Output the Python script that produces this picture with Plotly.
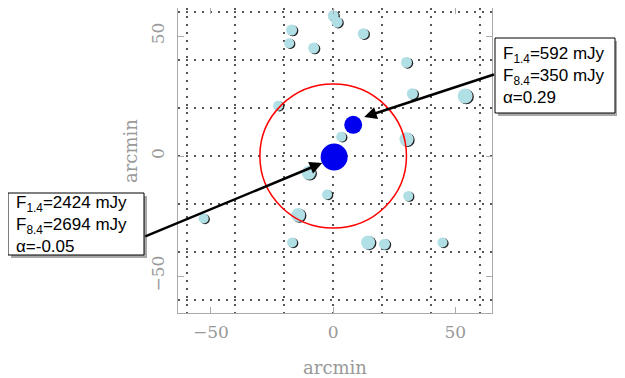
import plotly.graph_objects as go

# field sources (arcmin offsets from pointing centre)
src_x = [0, 1.6, -17, -18, -8, 12.3, 30, 32.4, 54, -22.5, 3.3, 30, -10,
         -2.5, 30.7, -53, -14.3, -16.8, 14.3, 21, 44.7]
src_y = [58.5, 55.8, 52.5, 47, 45, 51, 39, 26, 25, 21, 8, 7, -7,
         -16, -16.7, -26, -24.6, -36, -36, -36.7, -36]
src_size = [11, 11, 11, 10, 11, 11, 11, 11, 15, 10, 10, 14, 14,
            10, 10, 10, 14, 10, 14, 11, 10]

# the two bright targets
tgt_x = [8.2, 0.4]
tgt_y = [13, -0.4]
tgt_size = [18, 27]

# open green marker
ring_x = [33.6]
ring_y = [-41]

# primary beam circle
beam_cx, beam_cy, beam_r = 0, 0, 30

tick_vals = [-50, 0, 50]
grid_vals = [-60, -40, -20, 0, 20, 40, 60]

# callout boxes
box_text = ["F<sub>1.4</sub>=592 mJy<br>F<sub>8.4</sub>=350 mJy<br>α=0.29",
            "F<sub>1.4</sub>=2424 mJy<br>F<sub>8.4</sub>=2694 mJy<br>α=-0.05"]
# box corners in figure pixels: left, top, right, bottom
box_px = [(487, 30, 607, 105), (0, 185, 136, 247)]
head_x = [12.7, -4.5]
head_y = [16.25, -2.9]
tail_x = [66.4, -77.5]
tail_y = [34.2, -33.75]

W, H = 617, 370
ML, MR, MT, MB = 170, 133, 0, 65
PW, PH = W - ML - MR, H - MT - MB


def px2paper_x(p):
    return (p - ML) / PW


def px2paper_y(p):
    return (H - MB - p) / PH


fig = go.Figure()

# dark shadow under the light blue dots
fig.add_trace(go.Scatter(x=[v + 0.5 for v in src_x], y=[v - 0.3 for v in src_y],
                         mode="markers",
                         marker=dict(size=src_size, color="#222222", opacity=1, line=dict(width=0)),
                         hoverinfo="skip", showlegend=False))
fig.add_trace(go.Scatter(x=src_x, y=src_y, mode="markers",
                         marker=dict(size=src_size, color="#b0e0e6", opacity=1, line=dict(width=0)),
                         showlegend=False))
fig.add_trace(go.Scatter(x=tgt_x, y=tgt_y, mode="markers",
                         marker=dict(size=tgt_size, color="#0000ee", opacity=1, line=dict(width=0)),
                         showlegend=False))
fig.add_trace(go.Scatter(x=ring_x, y=ring_y, mode="markers",
                         marker=dict(size=16, color="rgba(0,0,0,0)", symbol="circle-open",
                                     line=dict(width=2, color="#8fe08f")),
                         showlegend=False))

fig.add_shape(type="circle", xref="x", yref="y",
              x0=beam_cx - beam_r, x1=beam_cx + beam_r,
              y0=beam_cy - beam_r, y1=beam_cy + beam_r,
              line=dict(color="red", width=1.5))

for i in range(len(box_text)):
    l, t, r, b = box_px[i]
    # arrow
    fig.add_annotation(x=head_x[i], y=head_y[i], ax=tail_x[i], ay=tail_y[i],
                       xref="x", yref="y", axref="x", ayref="y",
                       text="", showarrow=True, arrowhead=2, arrowsize=1,
                       arrowwidth=2.5, arrowcolor="black")
    # drop shadow + box
    fig.add_shape(type="rect", xref="paper", yref="paper",
                  x0=px2paper_x(l + 3), x1=px2paper_x(r + 3),
                  y0=px2paper_y(b + 3), y1=px2paper_y(t + 3),
                  fillcolor="#a8a8a8", line=dict(width=0))
    fig.add_shape(type="rect", xref="paper", yref="paper",
                  x0=px2paper_x(l), x1=px2paper_x(r),
                  y0=px2paper_y(b), y1=px2paper_y(t),
                  fillcolor="white", line=dict(color="black", width=1))
    fig.add_annotation(x=px2paper_x(l + 6), y=px2paper_y((t + b) / 2),
                       xref="paper", yref="paper",
                       xanchor="left", yanchor="middle",
                       text=box_text[i], showarrow=False, align="left",
                       font=dict(family="Liberation Sans", size=17, color="black"))

axis_font = dict(family="DejaVu Serif", size=17, color="#999999")
title_font = dict(family="DejaVu Serif", size=18, color="#999999")

axis_common = dict(
    tickvals=tick_vals, ticks="inside", ticklen=6, tickcolor="#aaaaaa",
    showgrid=False, zeroline=False, showline=True, linecolor="#aaaaaa",
    linewidth=1, mirror="ticks",
    tickfont=axis_font,
    minor=dict(tickvals=grid_vals, showgrid=True, gridcolor="#555555",
               gridwidth=2, griddash="2px,6px", ticks=""),
    automargin=False,
)

fig.update_xaxes(range=[-63.5, 65], ticklabelstandoff=4,
                 title=dict(text="arcmin", standoff=20, font=title_font),
                 **axis_common)
fig.update_yaxes(range=[-65.4, 61.7], tickangle=-90, ticklabelstandoff=6,
                 **axis_common)

# y axis title sits a little above the plot centre in the original
fig.add_annotation(x=px2paper_x(122), y=px2paper_y(143), xref="paper", yref="paper",
                   xanchor="center", yanchor="middle",
                   text="arcmin", textangle=-90, showarrow=False, font=title_font)

fig.update_layout(width=W, height=H,
                  margin=dict(l=ML, r=MR, t=MT, b=MB),
                  plot_bgcolor="white", paper_bgcolor="white",
                  showlegend=False)

fig.write_html("out.html")
